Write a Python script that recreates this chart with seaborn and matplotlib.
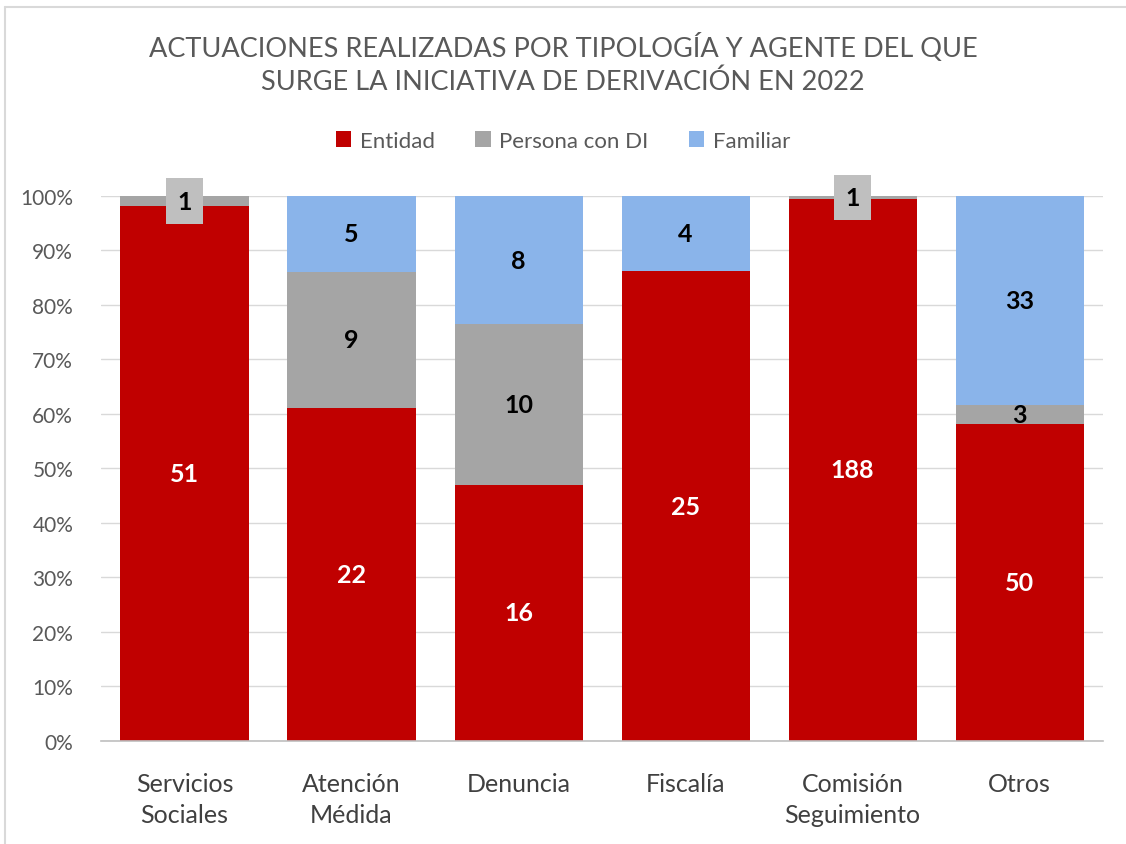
import matplotlib
matplotlib.use("Agg")
import matplotlib.pyplot as plt
import seaborn as sns
import pandas as pd
import numpy as np
from matplotlib.patches import Rectangle
from matplotlib.lines import Line2D
from matplotlib.ticker import PercentFormatter

categories = ["Servicios\nSociales", "Atención\nMédida", "Denuncia", "Fiscalía", "Comisión\nSeguimiento", "Otros"]
entidad = [51, 22, 16, 25, 188, 50]
persona = [1, 9, 10, 0, 1, 3]
familiar = [0, 5, 8, 4, 0, 33]
series_names = ["Entidad", "Persona con DI", "Familiar"]
colors = ["#C00000", "#A5A5A5", "#8AB4EA"]

sns.set_theme(style="white")
plt.rcParams["font.family"] = ["Lato", "DejaVu Sans"]

ent = np.array(entidad, float)
per = np.array(persona, float)
fam = np.array(familiar, float)
tot = ent + per + fam
p_ent = ent / tot * 100
p_per = per / tot * 100
p_fam = fam / tot * 100

df = pd.DataFrame({
    "cat": categories,
    "c1": p_ent,
    "c2": p_ent + p_per,
    "c3": p_ent + p_per + p_fam,
})

fig = plt.figure(figsize=(11.26, 8.45), dpi=100)
fig.lines.append(Line2D([0.004, 0.004], [0.0, 0.991], transform=fig.transFigure,
                        color="#D9D9D9", linewidth=1.5))
fig.lines.append(Line2D([0.004, 1.0], [0.991, 0.991], transform=fig.transFigure,
                        color="#D9D9D9", linewidth=1.5))
ax = fig.add_axes([0.0897, 0.1219, 0.890, 0.645])

bar_kw = dict(width=0.767, ax=ax, saturation=1, zorder=2, edgecolor="none", linewidth=0)
sns.barplot(data=df, x="cat", y="c3", color=colors[2], **bar_kw)
sns.barplot(data=df, x="cat", y="c2", color=colors[1], **bar_kw)
sns.barplot(data=df, x="cat", y="c1", color=colors[0], **bar_kw)

ax.set_xlim(-0.5, len(categories) - 0.5)
ax.set_ylim(0, 100)
ax.set_yticks(np.arange(0, 101, 10))
ax.yaxis.set_major_formatter(PercentFormatter(decimals=0))
ax.grid(axis="y", color="#D9D9D9", linewidth=1, zorder=0)
ax.set_axisbelow(True)
for s in ["top", "right", "left"]:
    ax.spines[s].set_visible(False)
ax.spines["bottom"].set_color("#BFBFBF")
ax.spines["bottom"].set_linewidth(1.2)
ax.set_xlabel("")
ax.set_ylabel("")
ax.tick_params(axis="y", labelsize=15, labelcolor="#595959", length=0, pad=20)
ax.tick_params(axis="x", labelsize=18, labelcolor="#404040", length=0, pad=22)
for t in ax.get_xticklabels():
    t.set_linespacing(1.45)

lab_kw = dict(ha="center", va="center", fontsize=18, fontweight="bold", zorder=5)
for i in range(len(categories)):
    ax.text(i, p_ent[i] / 2, f"{int(ent[i])}", color="white", **lab_kw)
    if per[i] > 0:
        yc = p_ent[i] + p_per[i] / 2
        if p_per[i] < 3 and fam[i] == 0:
            ax.text(i, yc, f"{int(per[i])}", color="black",
                    bbox=dict(boxstyle="square,pad=0.45", facecolor="#BFBFBF", edgecolor="none"), **lab_kw)
        else:
            ax.text(i, yc, f"{int(per[i])}", color="black", **lab_kw)
    if fam[i] > 0:
        yc = p_ent[i] + p_per[i] + p_fam[i] / 2
        ax.text(i, yc, f"{int(fam[i])}", color="black", **lab_kw)

fig.text(0.5, 0.944, "ACTUACIONES REALIZADAS POR TIPOLOGÍA Y AGENTE DEL QUE",
         ha="center", va="center", fontsize=19.5, color="#595959")
fig.text(0.5, 0.903, "SURGE LA INICIATIVA DE DERIVACIÓN EN 2022",
         ha="center", va="center", fontsize=19.5, color="#595959")

handles = [Rectangle((0, 0), 1, 1, facecolor=c, edgecolor="none") for c in colors]
fig.legend(handles, series_names, loc="center", bbox_to_anchor=(0.5, 0.832), ncol=3,
           frameon=False, fontsize=16, handlelength=0.7, handleheight=0.7,
           handletextpad=0.4, columnspacing=1.8, labelcolor="#595959")

fig.savefig("out.png", dpi=100)
